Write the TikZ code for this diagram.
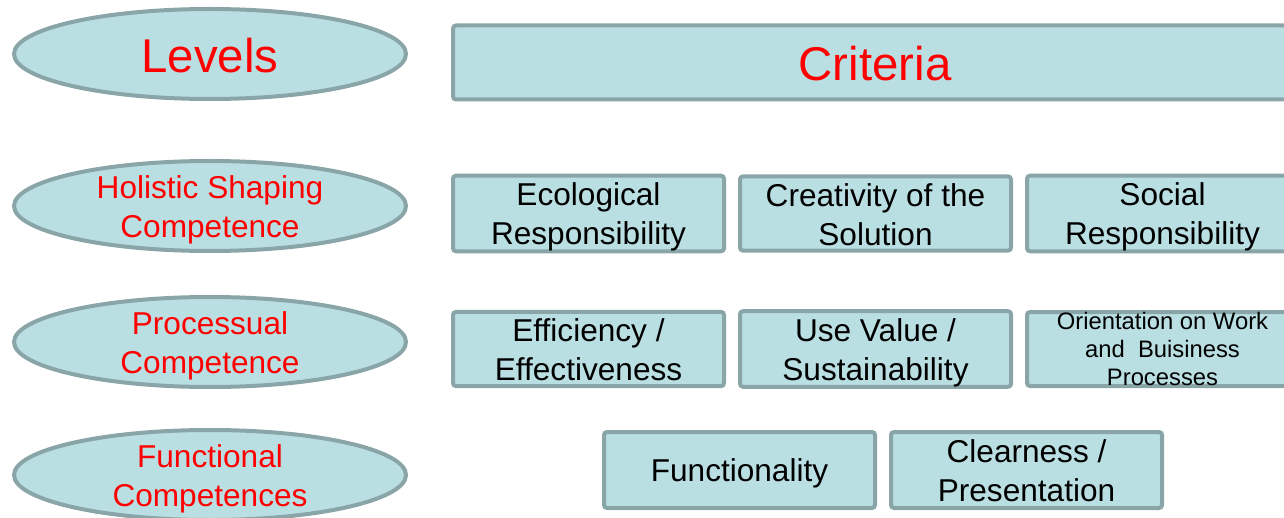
\documentclass[tikz,border=0pt]{standalone}
\usepackage{fontspec}
\setmainfont{Liberation Sans}
\usepackage{tikz}
\usetikzlibrary{shapes.geometric,positioning}

\definecolor{boxfill}{RGB}{186,223,227}
\definecolor{boxline}{RGB}{138,165,167}

% struts so that all labels sit alike
\newcommand{\lstr}{\rule[-2.6pt]{0pt}{17.6pt}}
\newcommand{\bstr}{\rule[-1.5pt]{0pt}{21.5pt}}

\begin{document}
\begin{tikzpicture}[x=0.5pt,y=-0.5pt,
    level/.style={ellipse, draw=boxline, fill=boxfill, line width=2pt,
        minimum width=196pt, minimum height=45pt, inner xsep=0pt, inner ysep=-6pt,
        text=red, align=center, font=\fontsize{15.8}{19.5}\selectfont},
    crit/.style={rectangle, rounded corners=1.5pt, draw=boxline, fill=boxfill,
        line width=2pt, minimum width=135.5pt, minimum height=37pt, inner sep=0pt,
        align=center, font=\fontsize{15.8}{19.5}\selectfont},
    big/.style={font=\fontsize{23.7}{28}\selectfont}]
  \useasboundingbox (0,0) rectangle (1284,518);
  \clip (0,0) rectangle (1284,518);

        	\node[level, big]  (lev)  at (210,54)  {\bstr Levels};
  			\node[level]   (hol)  at (210,206)  {\lstr Holistic Shaping\\\lstr Competence};
           \node[level]   (proc) at (210,342)  {\lstr Processual\\\lstr Competence};
           \node[level]   (func) at (210,475)  {\lstr Functional\\\lstr Competences};

           \node[crit, big, text=red, minimum width=422pt]  (crit) at (875,62.5)  {\bstr Criteria};

           \node[crit]   (eco)  at (588.5,213.5)  {\lstr Ecological\\\lstr Responsibility};
		   \node[crit]   (crea) [right=6pt of eco]  {\lstr Creativity of the\\\lstr Solution};
           \node[crit]   (soc)  [right=6pt of crea]  {\lstr Social\\\lstr Responsibility};

           \node[crit]   (eff)  at (588.5,349)  {\lstr Efficiency /\\\lstr Effectiveness};
            \node[crit]  (use)  [right=6pt of eff]  {\lstr Use Value /\\\lstr Sustainability};
            \node[crit, font=\fontsize{11.9}{14}\selectfont]  (orie)  [right=6pt of use]  {Orientation on Work\\and\ \ Buisiness\\Processes};

            \node[crit, minimum height=38pt] (fun) at (739.5,470) {\lstr Functionality};
            \node[crit, minimum height=38pt] (clr) [right=6pt of fun] {\lstr Clearness /\\\lstr Presentation};
\end{tikzpicture}
\end{document}
